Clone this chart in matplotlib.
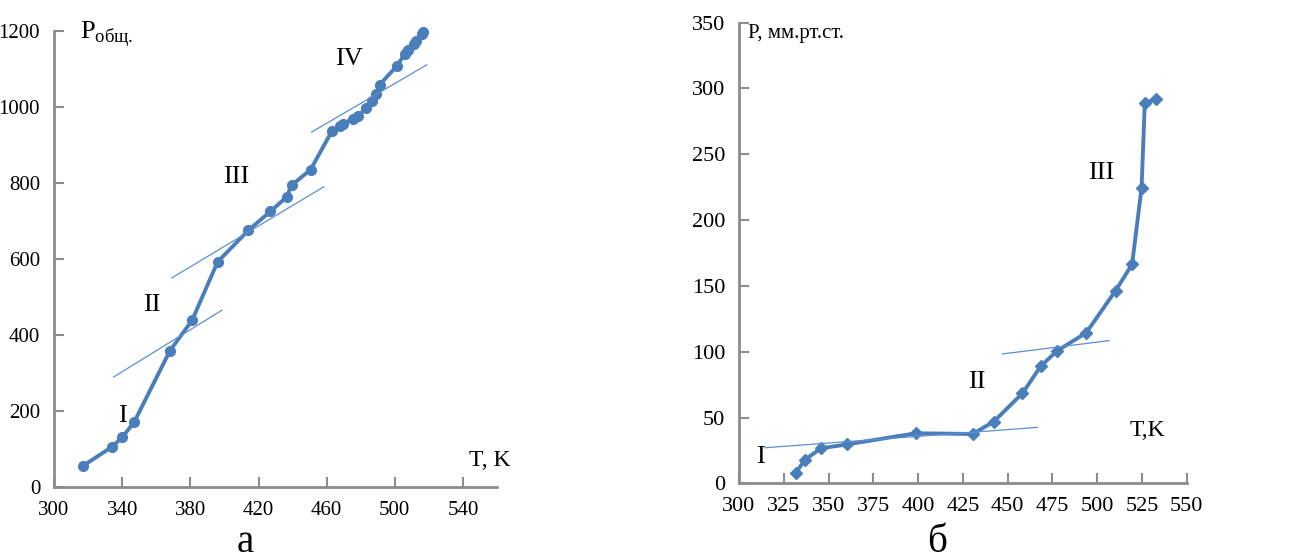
import matplotlib
matplotlib.use("Agg")
import matplotlib.pyplot as plt

plt.rcParams['font.family'] = ['Liberation Serif', 'DejaVu Serif']

# --- chart a: total pressure vs temperature ---
t_a = [317, 334, 340, 347, 368, 381, 396, 414, 427, 436.5, 439.4, 450.6,
       463, 468, 469.6, 475.5, 478.6, 482.9, 486.5, 488.8, 491.2, 501,
       506, 507.8, 511, 512.7, 515.7, 516.8]
p_a = [55, 105, 130, 170, 358, 438, 592, 675, 725, 763, 794, 835,
       936, 949, 956, 969, 975, 997, 1017, 1033, 1059, 1107,
       1140, 1151, 1167, 1175, 1193, 1197]
# tangent segments (start T, end T, start P, end P)
tan_a = [((335, 398.6), (289, 465)),
         ((369.2, 458.4), (550, 790)),
         ((451.2, 518.8), (934, 1111))]
lab_a = ['I', 'II', 'III', 'IV']
lab_a_t = [340, 357.5, 407, 473]
lab_a_p = [186, 478, 816, 1127]
xt_a = [300, 340, 380, 420, 460, 500, 540]
yt_a = [0, 200, 400, 600, 800, 1000, 1200]

# --- chart б: pressure (mm Hg) vs temperature ---
t_b = [331.6, 336.7, 345.7, 360.5, 398.6, 430.5, 442.2, 458.3, 468.5,
       477.5, 493.9, 510.3, 519.5, 524.8, 526.6, 532.9]
p_b = [7.6, 17.7, 26.6, 29.6, 38, 37.5, 46.8, 68.4, 89,
       100.5, 114.4, 146.4, 166.4, 224.6, 289.2, 291.8]
tan_b = [((314.5, 466.6), (27, 42.5)),
         ((447.1, 506.6), (98.3, 108.4))]
lab_b = ['I', 'II', 'III']
lab_b_t = [312, 433, 502.5]
lab_b_p = [20, 77, 235.6]
xt_b = [300, 325, 350, 375, 400, 425, 450, 475, 500, 525, 550]
yt_b = [0, 50, 100, 150, 200, 250, 300, 350]

line_col = '#4a7ebb'
thin_col = '#5b8fd0'
axis_col = '#8c8c8c'

fig = plt.figure(figsize=(12.93, 5.59), dpi=100)
ax1 = fig.add_axes([0.0418, 0.1293, 0.3426, 0.8152])
ax2 = fig.add_axes([0.5715, 0.1354, 0.3463, 0.8240])


def style(ax, fs):
    for s in ['top', 'right']:
        ax.spines[s].set_visible(False)
    for s in ['left', 'bottom']:
        ax.spines[s].set_color(axis_col)
        ax.spines[s].set_linewidth(2)
    ax.tick_params(direction='in', length=7, width=1.5, color=axis_col,
                   labelsize=fs, pad=10)


ax1.plot(t_a, p_a, '-o', color=line_col, lw=2.8, ms=7, clip_on=False)
for (tx, py) in tan_a:
    ax1.plot(tx, py, color=thin_col, lw=0.9)
for s, tx, py in zip(lab_a, lab_a_t, lab_a_p):
    ax1.text(tx, py, s, fontsize=19, ha='center', va='center')
ax1.set_xlim(300, 560)
ax1.set_ylim(0, 1200)
ax1.set_xticks(xt_a)
ax1.set_yticks(yt_a)
style(ax1, 15)
ax1.text(315, 1193, r'P$_{\mathregular{общ.}}$', fontsize=19, ha='left', va='center')
ax1.text(568, 70, 'T, K', fontsize=17, ha='right', va='center')

ax2.plot(t_b, p_b, '-D', color=line_col, lw=2.8, ms=6, clip_on=False)
for (tx, py) in tan_b:
    ax2.plot(tx, py, color=thin_col, lw=0.9)
for s, tx, py in zip(lab_b, lab_b_t, lab_b_p):
    ax2.text(tx, py, s, fontsize=19, ha='center', va='center')
ax2.set_xlim(300, 550)
ax2.set_ylim(0, 350)
ax2.set_xticks(xt_b)
ax2.set_yticks(yt_b)
style(ax2, 16)
ax2.text(305, 342, 'P, мм.рт.ст.', fontsize=15, ha='left', va='center')
ax2.text(528, 40.5, 'T,K', fontsize=17, ha='center', va='center')

fig.text(0.19, 0.012, 'а', fontsize=28, ha='center', va='baseline')
fig.text(0.725, 0.012, 'б', fontsize=28, ha='center', va='baseline')

fig.savefig('out.png', dpi=100)
